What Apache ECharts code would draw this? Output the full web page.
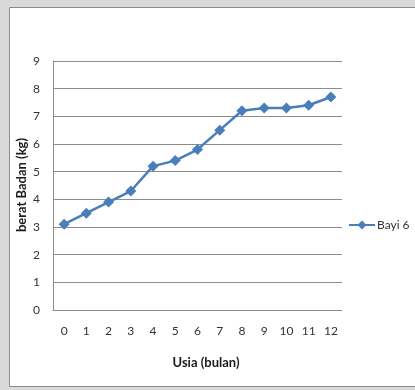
<!DOCTYPE html>
<html>
<head>
<meta charset="utf-8">
<script src="https://cdn.jsdelivr.net/npm/echarts@6/dist/echarts.min.js"></script>
<style>
  html, body { margin: 0; padding: 0; background: #d9d9d9; }
  #chart { width: 415px; height: 390px; }
</style>
</head>
<body>
<div id="chart"></div>
<script>
// Age in months and body weight (kg) of baby 6
const months = ['0', '1', '2', '3', '4', '5', '6', '7', '8', '9', '10', '11', '12'];
const weights = [3.1, 3.5, 3.9, 4.3, 5.2, 5.4, 5.8, 6.5, 7.2, 7.3, 7.3, 7.4, 7.7];
const seriesName = 'Bayi 6';
const xTitle = 'Usia (bulan)';
const yTitle = 'berat Badan (kg)';

const blue = '#4a7ebb';
const font = 'Lato, "Open Sans", sans-serif';

const chart = echarts.init(document.getElementById('chart'), null, { renderer: 'canvas' });
chart.setOption({
  backgroundColor: '#d9d9d9',
  animation: false,
  textStyle: { fontFamily: font },
  graphic: [{
    type: 'rect',
    z: -10,
    shape: { x: 9.5, y: 7.5, width: 420, height: 379 },
    style: { fill: '#ffffff', stroke: '#8a8a8a', lineWidth: 1 }
  }, {
    // vertical title of the weight axis
    type: 'text',
    x: 22,
    y: 185,
    rotation: Math.PI / 2,
    style: {
      text: yTitle,
      font: 'bold 13px ' + font,
      fill: '#1a1a1a',
      align: 'center',
      verticalAlign: 'middle'
    }
  }],
  grid: { left: 53, top: 61, width: 289, height: 249, containLabel: false },
  legend: {
    data: [seriesName],
    orient: 'vertical',
    left: 343,
    top: 214,
    itemWidth: 26,
    itemHeight: 11,
    itemGap: 4,
    textStyle: { fontSize: 12, color: '#333', fontFamily: font, padding: [0, 0, 0, -3] }
  },
  xAxis: {
    type: 'category',
    data: months,
    boundaryGap: true,
    name: xTitle,
    nameLocation: 'middle',
    nameGap: 46,
    nameTextStyle: { fontSize: 13, fontWeight: 'bold', color: '#1a1a1a', fontFamily: font, padding: [0, 0, 0, 17] },
    axisLine: { show: true, lineStyle: { color: '#8c8c8c', width: 1 } },
    axisTick: { show: false },
    axisLabel: { color: '#333', fontSize: 12, margin: 15, fontFamily: font, interval: 0 },
    splitLine: { show: false }
  },
  yAxis: {
    type: 'value',
    min: 0,
    max: 9,
    interval: 1,
    axisLine: { show: true, lineStyle: { color: '#8c8c8c', width: 1 } },
    axisTick: { show: false },
    axisLabel: { color: '#333', fontSize: 12, margin: 13, fontFamily: font },
    splitLine: { show: true, lineStyle: { color: '#8c8c8c', width: 1 } }
  },
  series: [{
    name: seriesName,
    type: 'line',
    data: weights,
    symbol: 'diamond',
    symbolSize: 11,
    lineStyle: { color: blue, width: 2.5 },
    itemStyle: { color: blue },
    emphasis: { disabled: true }
  }]
});
</script>
</body>
</html>
